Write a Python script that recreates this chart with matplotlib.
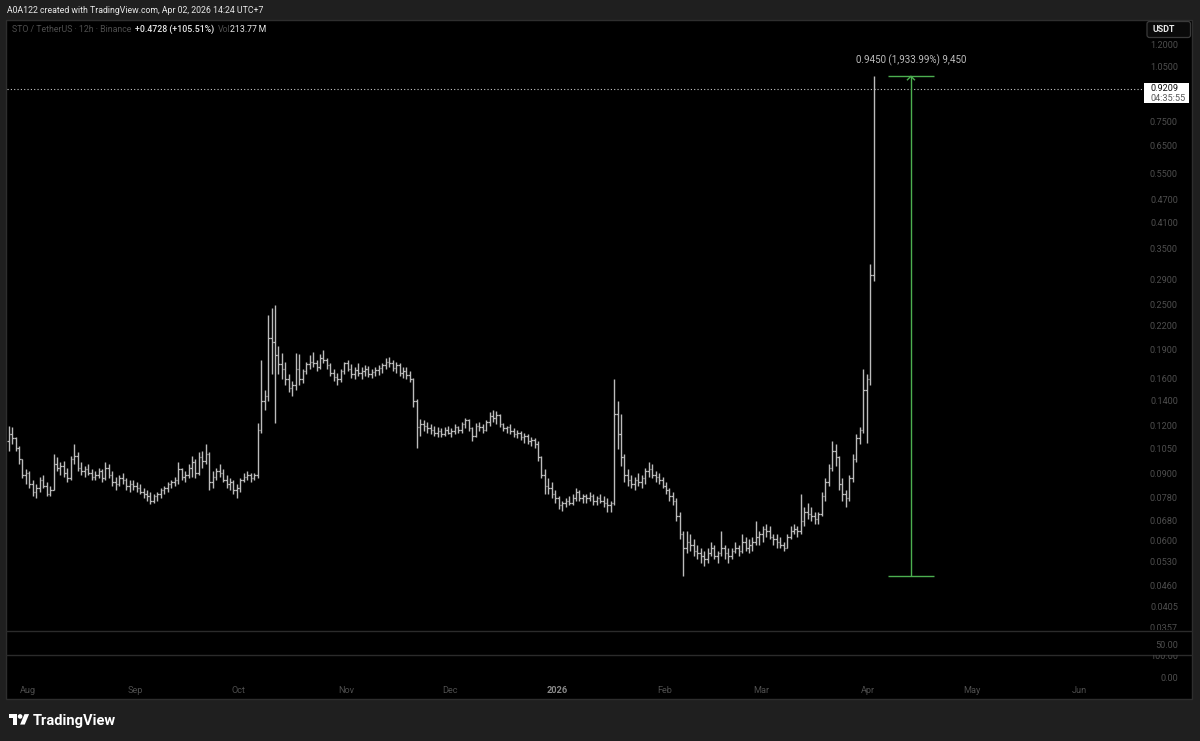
import numpy as np
import pandas as pd
import matplotlib
matplotlib.use('Agg')
import matplotlib.pyplot as plt
import matplotlib.dates as mdates
import matplotlib.transforms as mtransforms
from matplotlib.patches import Rectangle, Polygon, Circle, FancyBboxPatch

# ---------------- data (daily OHLC) ----------------
start_date = '2025-07-26'
first_open = 0.110
highs = [
    0.121, 0.120, 0.113, 0.107, 0.099, 0.093, 0.092, 0.087, 0.085, 0.089,
    0.090, 0.086, 0.084, 0.102, 0.100, 0.097, 0.098, 0.094, 0.101, 0.108,
    0.103, 0.097, 0.095, 0.096, 0.093, 0.092, 0.094, 0.093, 0.097, 0.096,
    0.092, 0.089, 0.090, 0.091, 0.088, 0.087, 0.087, 0.086, 0.085, 0.083,
    0.082, 0.081, 0.080, 0.081, 0.083, 0.084, 0.086, 0.087, 0.089, 0.097,
    0.094, 0.092, 0.096, 0.101, 0.099, 0.103, 0.104, 0.108, 0.103, 0.092,
    0.094, 0.096, 0.093, 0.090, 0.088, 0.087, 0.085, 0.088, 0.091, 0.092,
    0.091, 0.091, 0.123, 0.180, 0.150, 0.235, 0.246, 0.250, 0.195, 0.188,
    0.178, 0.165, 0.158, 0.188, 0.186, 0.170, 0.178, 0.185, 0.189, 0.180,
    0.186, 0.191, 0.182, 0.176, 0.170, 0.166, 0.170, 0.178, 0.180, 0.175,
    0.172, 0.176, 0.172, 0.174, 0.173, 0.170, 0.172, 0.174, 0.176, 0.182,
    0.183, 0.180, 0.178, 0.176, 0.172, 0.172, 0.168, 0.161, 0.142, 0.126,
    0.125, 0.124, 0.122, 0.121, 0.120, 0.119, 0.120, 0.121, 0.119, 0.122,
    0.121, 0.124, 0.127, 0.126, 0.120, 0.123, 0.124, 0.122, 0.125, 0.131,
    0.133, 0.132, 0.130, 0.123, 0.121, 0.122, 0.119, 0.118, 0.117, 0.116,
    0.115, 0.113, 0.112, 0.110, 0.101, 0.093, 0.088, 0.086, 0.082, 0.079,
    0.077, 0.078, 0.079, 0.080, 0.083, 0.082, 0.080, 0.080, 0.081, 0.080,
    0.079, 0.080, 0.079, 0.078, 0.077, 0.160, 0.140, 0.130, 0.102, 0.093,
    0.090, 0.089, 0.091, 0.090, 0.094, 0.097, 0.096, 0.092, 0.091, 0.089,
    0.086, 0.083, 0.081, 0.078, 0.072, 0.064, 0.064, 0.063, 0.061, 0.059,
    0.058, 0.057, 0.058, 0.060, 0.059, 0.057, 0.064, 0.059, 0.058, 0.058,
    0.060, 0.059, 0.063, 0.062, 0.061, 0.062, 0.068, 0.064, 0.066, 0.067,
    0.066, 0.063, 0.063, 0.062, 0.060, 0.063, 0.066, 0.067, 0.066, 0.080,
    0.074, 0.076, 0.074, 0.072, 0.072, 0.081, 0.088, 0.096, 0.110, 0.108,
    0.101, 0.088, 0.082, 0.090, 0.102, 0.115, 0.120, 0.170, 0.165, 0.320,
    0.994,
]
lows = [
    0.104, 0.108, 0.104, 0.096, 0.088, 0.085, 0.083, 0.079, 0.078, 0.081,
    0.083, 0.079, 0.079, 0.082, 0.092, 0.090, 0.089, 0.086, 0.087, 0.096,
    0.092, 0.090, 0.089, 0.090, 0.087, 0.087, 0.088, 0.086, 0.087, 0.088,
    0.084, 0.082, 0.084, 0.085, 0.082, 0.081, 0.082, 0.081, 0.080, 0.078,
    0.077, 0.0755, 0.076, 0.077, 0.078, 0.080, 0.081, 0.083, 0.084, 0.085,
    0.087, 0.086, 0.088, 0.089, 0.088, 0.090, 0.094, 0.096, 0.082, 0.083,
    0.087, 0.089, 0.086, 0.083, 0.082, 0.080, 0.078, 0.081, 0.086, 0.087,
    0.086, 0.087, 0.088, 0.116, 0.133, 0.140, 0.165, 0.123, 0.165, 0.160,
    0.155, 0.148, 0.145, 0.150, 0.155, 0.156, 0.165, 0.170, 0.172, 0.168,
    0.170, 0.176, 0.170, 0.163, 0.158, 0.155, 0.157, 0.165, 0.168, 0.161,
    0.160, 0.163, 0.160, 0.163, 0.162, 0.161, 0.163, 0.164, 0.166, 0.170,
    0.172, 0.168, 0.166, 0.163, 0.161, 0.160, 0.157, 0.135, 0.106, 0.114,
    0.117, 0.116, 0.115, 0.114, 0.113, 0.113, 0.114, 0.115, 0.113, 0.115,
    0.116, 0.116, 0.119, 0.117, 0.110, 0.113, 0.117, 0.116, 0.117, 0.121,
    0.124, 0.122, 0.120, 0.117, 0.116, 0.115, 0.113, 0.112, 0.111, 0.109,
    0.108, 0.107, 0.106, 0.098, 0.088, 0.080, 0.080, 0.078, 0.076, 0.073,
    0.0725, 0.074, 0.075, 0.075, 0.077, 0.077, 0.076, 0.076, 0.077, 0.075,
    0.075, 0.076, 0.074, 0.072, 0.072, 0.075, 0.105, 0.095, 0.086, 0.084,
    0.083, 0.082, 0.084, 0.083, 0.085, 0.089, 0.088, 0.086, 0.085, 0.083,
    0.080, 0.077, 0.075, 0.068, 0.061, 0.049, 0.056, 0.057, 0.055, 0.054,
    0.053, 0.052, 0.053, 0.055, 0.054, 0.053, 0.055, 0.054, 0.053, 0.054,
    0.056, 0.055, 0.056, 0.057, 0.056, 0.057, 0.059, 0.059, 0.060, 0.062,
    0.061, 0.059, 0.058, 0.058, 0.057, 0.058, 0.061, 0.063, 0.062, 0.063,
    0.066, 0.069, 0.068, 0.067, 0.067, 0.070, 0.077, 0.084, 0.092, 0.095,
    0.082, 0.077, 0.074, 0.077, 0.086, 0.097, 0.108, 0.116, 0.109, 0.155,
    0.290,
]
closes = [
    0.115, 0.112, 0.106, 0.099, 0.090, 0.091, 0.085, 0.081, 0.083, 0.087,
    0.084, 0.080, 0.082, 0.096, 0.094, 0.095, 0.091, 0.088, 0.099, 0.101,
    0.094, 0.092, 0.093, 0.091, 0.089, 0.090, 0.092, 0.088, 0.094, 0.090,
    0.086, 0.085, 0.088, 0.087, 0.084, 0.085, 0.084, 0.083, 0.081, 0.080,
    0.079, 0.077, 0.079, 0.080, 0.082, 0.083, 0.085, 0.086, 0.087, 0.093,
    0.089, 0.090, 0.094, 0.097, 0.091, 0.100, 0.098, 0.102, 0.086, 0.089,
    0.092, 0.091, 0.087, 0.085, 0.086, 0.082, 0.083, 0.087, 0.089, 0.090,
    0.088, 0.090, 0.118, 0.140, 0.145, 0.205, 0.200, 0.185, 0.175, 0.170,
    0.160, 0.152, 0.155, 0.170, 0.160, 0.168, 0.175, 0.178, 0.176, 0.172,
    0.182, 0.180, 0.174, 0.166, 0.162, 0.160, 0.168, 0.176, 0.170, 0.165,
    0.169, 0.166, 0.168, 0.170, 0.165, 0.167, 0.169, 0.171, 0.174, 0.178,
    0.176, 0.171, 0.174, 0.166, 0.168, 0.164, 0.160, 0.140, 0.120, 0.122,
    0.121, 0.119, 0.118, 0.116, 0.117, 0.115, 0.118, 0.116, 0.117, 0.120,
    0.118, 0.122, 0.125, 0.119, 0.114, 0.121, 0.120, 0.118, 0.124, 0.128,
    0.127, 0.129, 0.122, 0.119, 0.120, 0.117, 0.115, 0.116, 0.113, 0.114,
    0.110, 0.111, 0.108, 0.100, 0.090, 0.084, 0.083, 0.080, 0.078, 0.075,
    0.076, 0.077, 0.076, 0.078, 0.081, 0.078, 0.079, 0.078, 0.079, 0.077,
    0.078, 0.077, 0.076, 0.075, 0.076, 0.130, 0.115, 0.100, 0.090, 0.087,
    0.085, 0.087, 0.086, 0.088, 0.092, 0.093, 0.090, 0.089, 0.087, 0.084,
    0.082, 0.079, 0.077, 0.070, 0.063, 0.058, 0.060, 0.059, 0.057, 0.056,
    0.055, 0.054, 0.056, 0.058, 0.055, 0.056, 0.058, 0.056, 0.055, 0.057,
    0.058, 0.057, 0.060, 0.058, 0.059, 0.060, 0.062, 0.063, 0.065, 0.064,
    0.062, 0.061, 0.060, 0.059, 0.058, 0.062, 0.064, 0.065, 0.064, 0.068,
    0.072, 0.071, 0.070, 0.069, 0.071, 0.079, 0.086, 0.094, 0.104, 0.100,
    0.085, 0.080, 0.078, 0.088, 0.099, 0.112, 0.118, 0.150, 0.160, 0.300,
    0.9209,
]
price_ticks = [1.2, 1.05, 0.75, 0.65, 0.55, 0.47, 0.41, 0.35, 0.29, 0.25,
               0.22, 0.19, 0.16, 0.14, 0.12, 0.105, 0.09, 0.078, 0.068, 0.06,
               0.053, 0.046, 0.0405, 0.0357]
month_labels = ['Aug', 'Sep', 'Oct', 'Nov', 'Dec', '2026', 'Feb', 'Mar',
                'Apr', 'May', 'Jun']
first_month = '2025-08-01'
last_price = 0.9209
countdown = '04:35:55'
measure_low = 0.04886
measure_high = 0.99386
measure_label = '0.9450 (1,933.99%) 9,450'
header_text = 'A0A122 created with TradingView.com, Apr 02, 2026 14:24 UTC+7'
symbol_text = 'STO / TetherUS \u00b7 12h \u00b7 Binance'
change_text = '+0.4728 (+105.51%)'
vol_label = 'Vol'
vol_value = '213.77\u2009M'
pane2_labels = ['50.00']
pane3_labels = ['100.00', '0.00']

# ---------------- styling / layout ----------------
FONT = ['Roboto', 'DejaVu Sans']
plt.rcParams['font.family'] = FONT
W, H = 1200, 741
BG = '#1f1f1f'
PANEL = '#000000'
GRIDC = '#2b2b2b'
BAR = '#bcbcbc'
DIM = '#4e4e4e'
GREEN = '#4caf50'

fig = plt.figure(figsize=(W / 100, H / 100), dpi=100)
fig.patch.set_facecolor(BG)

bg = fig.add_axes([0, 0, 1, 1], zorder=0)
bg.set_xlim(0, W)
bg.set_ylim(H, 0)
bg.axis('off')
bg.add_patch(Rectangle((6, 20), 1186, 679, facecolor=PANEL,
                       edgecolor='#2e2e2e', lw=1))
for yy in (630.5, 654.5):
    bg.plot([6, 1192], [yy, yy], color=GRIDC, lw=1)


def fax(x0, y0, x1, y1, z):
    a = fig.add_axes([x0 / W, 1 - y1 / H, (x1 - x0) / W, (y1 - y0) / H],
                     zorder=z)
    a.set_facecolor('none')
    a.axis('off')
    return a


jan1 = mdates.date2num(np.datetime64('2026-01-01'))
px_day = 3.46
xlim = (jan1 - (557 - 7) / px_day, jan1 + (1192 - 557) / px_day)

ax = fax(7, 20, 1192, 630, 2)
ax.set_yscale('log')
ax.set_ylim(0.035299, 1.39517)
ax.set_xlim(*xlim)

n = len(closes)
x = mdates.date2num(pd.date_range(start_date, periods=n, freq='D')) + 0.5
opens = [first_open] + closes[:-1]
ax.vlines(x, lows, highs, colors=BAR, lw=1.0)
ax.hlines(opens, x - 0.45, x, colors=BAR, lw=0.9)
ax.hlines(closes, x, x + 0.45, colors=BAR, lw=0.9)

# last price dotted line
x_axis_edge = jan1 + (1143 - 557) / px_day
ax.plot([xlim[0], x_axis_edge], [last_price, last_price], color='#c8c8c8',
        lw=0.8, linestyle=(0, (1, 2)))

# price scale labels
tr = mtransforms.blended_transform_factory(ax.transAxes, ax.transData)
xr = (1178 - 7) / 1185
for p in price_ticks:
    ax.text(xr, p, f'{p:.4f}', transform=tr, ha='right', va='center',
            fontsize=6.6, color=DIM, clip_on=True)

# measurement tool
m0 = jan1 + 95.7
m1 = jan1 + 109.0
mm = jan1 + 102.3
ax.hlines([measure_high, measure_low], m0, m1, colors=GREEN, lw=1.0)
ax.vlines(mm, measure_low, measure_high, colors=GREEN, lw=1.0)
ax.annotate(measure_label, (mm, measure_high), xytext=(0, 11.5),
            textcoords='offset points', ha='center', va='center',
            fontsize=7, color='#bdbdbd')

fig.canvas.draw()
inv = lambda xd, yd: (ax.transData.transform((xd, yd)))
mx, my = inv(mm, measure_high)
my = H - my
bg.plot([mx - 3.5, mx, mx + 3.5], [my + 3.5, my, my + 3.5], color=GREEN,
        lw=1.0)

# last price label box
_, lp = inv(xlim[0], last_price)
lp = H - lp
bg.add_patch(Rectangle((1144, lp - 5.5), 45, 20, facecolor='white',
                       edgecolor='none', zorder=5))
bg.text(1150.5, lp - 0.5, f'{last_price:.4f}', fontsize=6.6, color='#111111',
        ha='left', va='center', zorder=6)
bg.text(1150.5, lp + 9.5, countdown, fontsize=6.6, color='#5a5a5a',
        ha='left', va='center', zorder=6)

# USDT box
bg.add_patch(FancyBboxPatch((1147, 21.5), 43.5, 16,
                            boxstyle='round,pad=0,rounding_size=2.5',
                            facecolor='#0a0a0a', edgecolor='#3a3a3a', lw=0.9,
                            zorder=5))
bg.text(1152.5, 30, 'USDT', fontsize=6.4, color='#e6e6e6', ha='left',
        va='center', fontweight='bold', zorder=6)

# sub panes
p2 = fax(7, 631, 1192, 654, 1)
p3 = fax(7, 655, 1192, 699, 1)
p3.set_xlim(*xlim)
p2.text(xr, 0.375, pane2_labels[0], transform=p2.transAxes, ha='right',
        va='center', fontsize=6.6, color=DIM, clip_on=True)
p3.text(xr, 0.955, pane3_labels[0], transform=p3.transAxes, ha='right',
        va='center', fontsize=6.6, color=DIM, clip_on=True)
p3.text(xr, 0.477, pane3_labels[1], transform=p3.transAxes, ha='right',
        va='center', fontsize=6.6, color=DIM, clip_on=True)

trm = mtransforms.blended_transform_factory(p3.transData, p3.transAxes)
month_pos = mdates.date2num(pd.date_range(first_month,
                                          periods=len(month_labels),
                                          freq='MS'))
for mp, lab in zip(month_pos, month_labels):
    is_year = lab.isdigit()
    p3.text(mp, 0.182, lab, transform=trm, ha='center', va='center',
            fontsize=6.6, color='#8a8a8a' if is_year else DIM,
            fontweight='bold' if is_year else 'normal')

# header and legend
bg.text(7, 10.5, header_text, fontsize=6.3, color='#e8e8e8', ha='left',
        va='center')
bg.text(12.5, 29, symbol_text, fontsize=6.3, color=DIM, ha='left',
        va='center')
bg.text(135, 29, change_text, fontsize=6.3, color='#e8e8e8', ha='left',
        va='center', fontweight='medium')
bg.text(218, 29, vol_label, fontsize=6.3, color=DIM, ha='left', va='center')
bg.text(229.5, 29, vol_value, fontsize=6.3, color='#e8e8e8', ha='left',
        va='center')

# TradingView logo
s, ox, oy = 0.58, 8.5, 711.8
tpts = [(14, 22), (7, 22), (7, 11), (0, 11), (0, 4), (14, 4)]
ppts = [(28, 22), (20, 22), (27.5, 4), (35.5, 4)]
bg.add_patch(Polygon([(ox + s * u, oy + s * v) for u, v in tpts],
                     closed=True, facecolor='white', edgecolor='none'))
bg.add_patch(Polygon([(ox + s * u, oy + s * v) for u, v in ppts],
                     closed=True, facecolor='white', edgecolor='none'))
bg.add_patch(Circle((ox + s * 20, oy + s * 8), s * 4, facecolor='white',
                    edgecolor='none'))
bg.text(33, 720.5, 'TradingView', fontsize=10.5, color='white', ha='left',
        va='center', fontweight='bold')

fig.savefig('out.png', dpi=100, facecolor=BG)
